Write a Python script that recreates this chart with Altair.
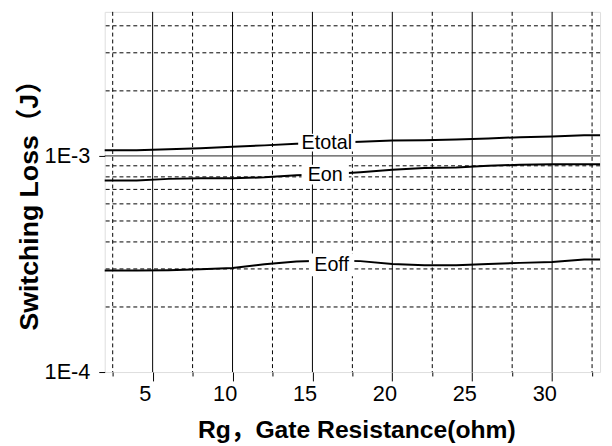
import altair as alt
import pandas as pd

# ---- data ----
rg = [2, 4, 6, 8, 10, 12, 14, 16, 18, 20, 22, 24, 26, 28, 30, 32, 33]
etotal = [1.062e-3, 1.062e-3, 1.073e-3, 1.084e-3, 1.103e-3, 1.119e-3, 1.138e-3, 1.150e-3,
          1.162e-3, 1.179e-3, 1.183e-3, 1.192e-3, 1.205e-3, 1.221e-3, 1.230e-3, 1.247e-3, 1.247e-3]
eon = [7.69e-4, 7.69e-4, 7.83e-4, 7.88e-4, 7.88e-4, 7.96e-4, 8.13e-4, 8.23e-4,
       8.41e-4, 8.63e-4, 8.79e-4, 8.84e-4, 9.00e-4, 9.10e-4, 9.16e-4, 9.16e-4, 9.16e-4]
eoff = [2.95e-4, 2.95e-4, 2.96e-4, 2.99e-4, 3.03e-4, 3.15e-4, 3.25e-4, 3.28e-4,
        3.26e-4, 3.16e-4, 3.12e-4, 3.12e-4, 3.16e-4, 3.20e-4, 3.23e-4, 3.32e-4, 3.32e-4]

label_names = ["Etotal", "Eon", "Eoff"]
label_rg = [15.9, 15.8, 16.2]
label_val = [1.152e-3, 8.19e-4, 3.13e-4]

x_major = [5, 10, 15, 20, 25, 30]
x_minor = [2.5, 7.5, 12.5, 17.5, 22.5, 27.5, 32.5]
y_major = [1e-4, 1e-3]
y_minor = [2e-4, 3e-4, 4e-4, 5e-4, 6e-4, 7e-4, 8e-4, 9e-4, 2e-3, 3e-3, 4e-3]

x_title = "Rg，Gate Resistance(ohm)"
y_title = "Switching Loss（J）"

# ---- tables ----
lines_df = pd.DataFrame({
    "rg": rg * 3,
    "e": etotal + eon + eoff,
    "series": ["Etotal"] * len(rg) + ["Eon"] * len(rg) + ["Eoff"] * len(rg),
})
labels_df = pd.DataFrame({"name": label_names, "rg": label_rg, "e": label_val})
xmaj_df = pd.DataFrame({"v": x_major})
xmin_df = pd.DataFrame({"v": x_minor})
ymaj_df = pd.DataFrame({"v": [v for v in y_major if v > 1e-4]})
ymin_df = pd.DataFrame({"v": y_minor})

FONT = "Liberation Sans, Arial, Noto Sans CJK SC"
xscale = alt.Scale(domain=[2, 33], nice=False, zero=False)
yscale = alt.Scale(type="log", domain=[1e-4, 4.64e-3], nice=False)

# minor vertical grid (dashed) with short ticks
xminor = alt.Chart(xmin_df).mark_rule(color="black", strokeWidth=1, strokeDash=[4, 3]).encode(
    x=alt.X("v:Q", scale=xscale,
            axis=alt.Axis(values=x_minor, labels=False, ticks=True, tickSize=4, tickColor="black",
                          grid=False, domain=False, title=None, orient="bottom"))
)

# major vertical grid (solid) with labels
xmajor = alt.Chart(xmaj_df).mark_rule(color="black", strokeWidth=1).encode(
    x=alt.X("v:Q", scale=xscale,
            axis=alt.Axis(values=x_major, tickSize=9, tickColor="black", grid=False, domain=False,
                          labelFont=FONT, labelFontSize=22, labelColor="black",
                          labelBaseline="alphabetic", labelPadding=20, labelOffset=-8,
                          title=x_title, titleFont=FONT, titleFontSize=25, titleFontWeight="bold",
                          titleColor="black", titleBaseline="alphabetic", titleY=66, titleX=255,
                          orient="bottom"))
)

yminor = alt.Chart(ymin_df).mark_rule(color="black", strokeWidth=1, strokeDash=[4, 3]).encode(
    y=alt.Y("v:Q", scale=yscale, axis=None)
)

ymajor = alt.Chart(ymaj_df).mark_rule(color="#222", strokeWidth=1).encode(
    y=alt.Y("v:Q", scale=yscale,
            axis=alt.Axis(values=y_major, tickSize=6, tickColor="black", grid=False, domain=False,
                          labelExpr="'1E' + round(log(datum.value) / LN10)",
                          labelFont=FONT, labelFontSize=22, labelColor="black", labelPadding=9,
                          labelBaseline="middle",
                          title=y_title, titleFont=FONT, titleFontSize=27, titleFontWeight="bold",
                          titleColor="black", titleAngle=270, titleX=-76, titleY=189,
                          titleAlign="center", titleBaseline="middle"))
)

lines = alt.Chart(lines_df).mark_line(color="black", strokeWidth=2).encode(
    x=alt.X("rg:Q", scale=xscale, axis=None),
    y=alt.Y("e:Q", scale=yscale, axis=None),
    detail="series:N",
)

box_paths = [
    "M-0.967,-0.3H0.967V0.3H-0.967Z",
    "M-0.8,-0.333H0.8V0.333H-0.8Z",
    "M-0.767,-0.383H0.767V0.383H-0.767Z",
]
boxes = alt.Chart(labels_df).mark_point(filled=True, fill="white", color="white", opacity=1,
                                        strokeWidth=0, size=3600).encode(
    x=alt.X("rg:Q", scale=xscale, axis=None),
    y=alt.Y("e:Q", scale=yscale, axis=None),
    shape=alt.Shape("name:N", scale=alt.Scale(domain=label_names, range=box_paths), legend=None),
)

texts = alt.Chart(labels_df).mark_text(font=FONT, fontSize=20, color="black", baseline="middle").encode(
    x=alt.X("rg:Q", scale=xscale, axis=None),
    y=alt.Y("e:Q", scale=yscale, axis=None),
    text="name:N",
)

chart = alt.layer(xminor, xmajor, yminor, ymajor, lines, boxes, texts).resolve_axis(
    x="independent", y="independent"
).properties(
    width=502, height=365,
    autosize=alt.AutoSizeParams(type="none"),
    padding={"left": 98, "top": 1, "right": 4, "bottom": 70},
).configure_view(stroke="#222", strokeWidth=1).configure(background="white")

chart.save("out.html", embed_options={"renderer": "svg", "actions": False})
